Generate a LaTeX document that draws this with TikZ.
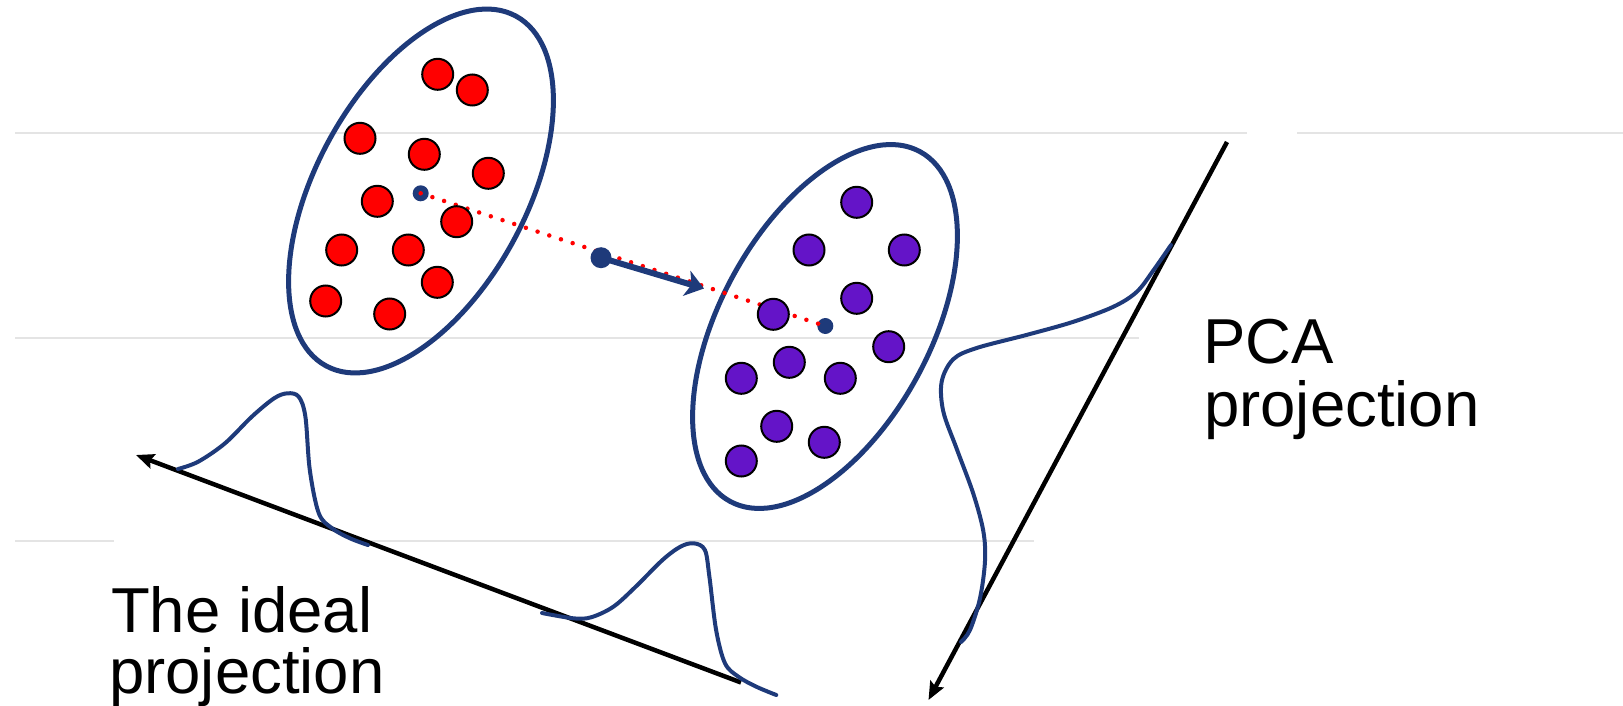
\documentclass[tikz,border=0pt]{standalone}
\usepackage{fontspec}
\setmainfont{Liberation Sans}
\usetikzlibrary{arrows.meta,shapes.geometric}
\definecolor{navy}{RGB}{30,58,122}
\definecolor{purp}{RGB}{100,20,200}
\definecolor{faint}{RGB}{228,228,228}
\tikzset{
  grayline/.style={faint, line width=2pt},
  cluster/.style={ellipse, draw=navy, line width=5pt, inner sep=0pt, minimum width=210pt, minimum height=398pt, rotate=-28.5},
  reddot/.style={circle, fill=red, draw=black, line width=2pt, inner sep=0pt, minimum size=31pt},
  purdot/.style={circle, fill=purp, draw=black, line width=2pt, inner sep=0pt, minimum size=31pt},
  cdot/.style={circle, fill=navy, inner sep=0pt, minimum size=16pt},
  mdot/.style={circle, fill=navy, inner sep=0pt, minimum size=21pt},
  meanline/.style={red, line width=4.5pt, line cap=round, dash pattern=on 0pt off 12.3pt},
  shift arrow/.style={navy, line width=6pt, -{Stealth[length=18pt,width=26pt,inset=5pt]}},
  projline/.style={black, line width=4.5pt, -{Stealth[length=18pt,width=15pt,inset=3pt]}},
  density/.style={navy, line width=4pt, line cap=round, line join=round},
  label/.style={anchor=base west, inner sep=0pt, font=\fontsize{63.5}{63.5}\selectfont}
}
\begin{document}
\begin{tikzpicture}[x=1pt, y=-1pt]
\useasboundingbox (0,0) rectangle (1623,706);
% faint background lines
\draw[grayline] (15,133) -- (1247,133);
\draw[grayline] (1297,133) -- (1623,133);
\draw[grayline] (15,338) -- (1139,338);
\draw[grayline] (15,541) -- (114,541);
\draw[grayline] (357,541) -- (1034,541);
% clusters
\node[cluster] (eL) at (421,191) {};
\node[cluster] (eR) at (825,326.5) {};
% centroids and mean line
\node[cdot] (cL) at (420.7,193.3) {};
\node[cdot] (cR) at (825.3,326) {};
\draw[meanline] (cL.center) -- (cR.center);
\node[mdot] (cM) at (601,257.7) {};
\coordinate (tipM) at (704,288.5);
\draw[shift arrow] (cM.center) -- (tipM);
% red points
\node[reddot] (r1) at (437.7,74.3) {};
\node[reddot] (r2) at (472.3,90) {};
\node[reddot] (r3) at (360,138.3) {};
\node[reddot] (r4) at (424.3,154.3) {};
\node[reddot] (r5) at (488.3,173.3) {};
\node[reddot] (r6) at (377.3,201.3) {};
\node[reddot] (r7) at (456.7,221.7) {};
\node[reddot] (r8) at (341.7,250) {};
\node[reddot] (r9) at (408.3,250) {};
\node[reddot] (r10) at (437.3,282.3) {};
\node[reddot] (r11) at (325.7,301) {};
\node[reddot] (r12) at (389.7,314) {};
% purple points
\node[purdot] (p1) at (856.7,202.3) {};
\node[purdot] (p2) at (809,250) {};
\node[purdot] (p3) at (904.3,250) {};
\node[purdot] (p4) at (856.7,298.3) {};
\node[purdot] (p5) at (773.3,314.3) {};
\node[purdot] (p6) at (888.7,346.7) {};
\node[purdot] (p7) at (789.3,362.3) {};
\node[purdot] (p8) at (741.3,378.3) {};
\node[purdot] (p9) at (840.3,378.3) {};
\node[purdot] (p10) at (776.7,426.3) {};
\node[purdot] (p11) at (824.3,442.3) {};
\node[purdot] (p12) at (741.3,461) {};
% ideal projection
\coordinate (iEnd) at (741,682.5);
\coordinate (iTip) at (136,455);
\draw[projline] (iEnd) -- (iTip);
\draw[density] plot[smooth, tension=0.55] coordinates {
  (178,469) (198.2,461.7) (225,443.3) (251.8,416.7) (274.1,398.3) (287.5,393.3)
  (298.7,396.7) (305.4,416.7) (309.8,470) (318.8,513.3) (332.1,528.3) (350,538.3) (367.9,545)};
\draw[density] plot[smooth, tension=0.55] coordinates {
  (542,613) (573.2,618.3) (591.1,617.3) (613.4,606.7) (635.7,586.7) (662.5,560) (680.4,546.7)
  (693.8,543.3) (704.9,550) (709.4,576.7) (716.1,630) (725,663.3) (738.4,676.7) (756.3,686.7) (776.3,695)};
% PCA projection
\coordinate (pTop) at (1227,142);
\coordinate (pTip) at (928.5,700);
\draw[projline] (pTop) -- (pTip);
\draw[density] plot[smooth, tension=0.55] coordinates {
  (1171,245) (1153.3,270.5) (1136.7,291.9) (1113.3,306.8) (1073.3,321.8) (1026.7,334.9)
  (976.7,348) (953.3,359.2) (941.7,381.6) (943.3,411.5) (956.7,448.8) (973.3,493.7)
  (983.3,531) (985,561) (980,598.3) (970,630) (961,642)};
% labels
\node[label] (pca1) at (1203,363) {PCA};
\node[label] (pca2) at (1204,426) {projection};
\node[label] (ide1) at (111,632) {The ideal};
\node[label] (ide2) at (109,693) {projection};
\end{tikzpicture}
\end{document}
